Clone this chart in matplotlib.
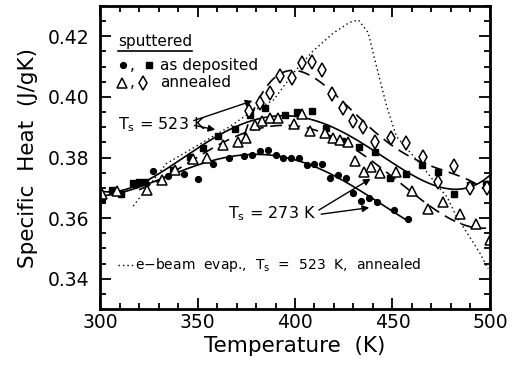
import numpy as np
import matplotlib.pyplot as plt
from matplotlib.ticker import MultipleLocator

# sputtered films, as deposited, Ts = 273 K (filled circles)
t_dep273 = [301, 311, 318, 323, 327, 335, 343, 350, 358, 366, 374, 378, 382, 386, 390,
            394, 398, 402, 406, 410, 414, 418, 422, 426, 430, 434, 438, 442, 451, 458]
c_dep273 = [0.366, 0.368, 0.371, 0.372, 0.3756, 0.374, 0.3747, 0.373, 0.378, 0.380,
            0.3805, 0.381, 0.382, 0.3825, 0.381, 0.380, 0.3797, 0.380, 0.3775, 0.378,
            0.378, 0.3734, 0.3742, 0.3734, 0.3683, 0.3657, 0.3668, 0.3653, 0.3628, 0.3598]

# as deposited, Ts = 523 K (filled squares)
t_dep523 = [306, 311, 317, 320, 323, 337.6, 346, 353, 360.5, 369, 377, 384.6, 395, 401,
            408.5, 416, 424, 433, 441, 448.7, 457, 465, 473.5, 481.5, 490, 498]
c_dep523 = [0.3694, 0.368, 0.3716, 0.3718, 0.372, 0.3758, 0.3803, 0.383, 0.3872, 0.3893,
            0.394, 0.3963, 0.394, 0.3949, 0.3952, 0.3897, 0.3856, 0.3834, 0.3819, 0.3734,
            0.3745, 0.3775, 0.3751, 0.368, 0.3709, 0.3712]

# annealed, Ts = 273 K (open triangles)
t_ann273 = [301, 308.5, 324, 331.6, 338.5, 347.5, 354.7, 363, 370.8, 375, 379.5, 383, 387,
            391.5, 399.5, 403.4, 407.7, 415.4, 419.6, 423, 427, 430.8, 435.4, 439, 443.6,
            451.8, 459.8, 468.4, 476, 484.6, 493, 500]
c_ann273 = [0.368, 0.369, 0.3694, 0.3725, 0.3758, 0.3795, 0.3797, 0.3841, 0.3852, 0.3864,
            0.3908, 0.3922, 0.393, 0.393, 0.3912, 0.3944, 0.3886, 0.3882, 0.3864, 0.3858,
            0.3852, 0.3789, 0.3751, 0.377, 0.3749, 0.3751, 0.369, 0.3631, 0.3653, 0.3615,
            0.3581, 0.3528]

# annealed, Ts = 523 K (open diamonds)
t_ann523 = [376.6, 382, 387, 392.3, 398.3, 403.4, 408.5, 413.7, 418.8, 424.4, 430, 435,
            441, 449, 457, 465.4, 473.5, 481.5, 490, 498.3]
c_ann523 = [0.3952, 0.398, 0.4013, 0.4068, 0.4063, 0.4113, 0.4115, 0.4088, 0.4011, 0.3963,
            0.3919, 0.390, 0.3852, 0.3864, 0.3849, 0.3803, 0.372, 0.3772, 0.3701, 0.3698]

# e-beam evaporated film, Ts = 523 K, annealed
t_ebeam = [317, 334, 366, 377, 389, 400, 409, 419.5, 428, 432.5, 437.5, 442.6, 447, 452,
           465.6, 474, 478, 483, 489.7, 495, 499]
c_ebeam = [0.364, 0.378, 0.390, 0.3948, 0.399, 0.4085, 0.415, 0.421, 0.4246, 0.4254,
           0.4213, 0.408, 0.397, 0.387, 0.3768, 0.370, 0.367, 0.3603, 0.3537, 0.3483, 0.3433]


def fit_curve(t, c, lo, hi, deg=4):
    p = np.polyfit(t, c, deg)
    x = np.linspace(lo, hi, 200)
    return x, np.polyval(p, x)


fig = plt.figure(figsize=(5.19, 3.68), dpi=100)
ax = fig.add_axes([0.1927, 0.160, 0.7514, 0.8237])

ax.plot(t_ebeam, c_ebeam, color='black', lw=1.0, ls=(0, (1, 2.2)))

x, y = fit_curve(t_dep273, c_dep273, 300, 458)
ax.plot(x, y, color='black', lw=1.2)
x, y = fit_curve(t_dep523, c_dep523, 300, 500)
ax.plot(x, y, color='black', lw=1.2)
x, y = fit_curve(t_ann273, c_ann273, 320, 498)
ax.plot(x, y, color='black', lw=1.2, ls=(0, (7, 4)))
x, y = fit_curve(t_ann523, c_ann523, 374, 498)
ax.plot(x, y, color='black', lw=1.2, ls=(0, (7, 4)))

ax.plot(t_dep273, c_dep273, 'o', color='black', ms=4.2, ls='none')
ax.plot(t_dep523, c_dep523, 's', color='black', ms=4.2, ls='none')
ax.plot(t_ann273, c_ann273, '^', mfc='white', mec='black', mew=1.1, ms=6.5, ls='none')
ax.plot(t_ann523, c_ann523, 'd', mfc='white', mec='black', mew=1.1, ms=7.5, ls='none')

ax.set_xlim(300, 500)
ax.set_ylim(0.33, 0.43)
ax.set_yticks([0.34, 0.36, 0.38, 0.40, 0.42])
ax.xaxis.set_major_locator(MultipleLocator(50))
ax.xaxis.set_minor_locator(MultipleLocator(10))
ax.yaxis.set_minor_locator(MultipleLocator(0.005))
ax.tick_params(which='both', direction='in', top=True, right=True, width=1.3,
               labelsize=13.5)
ax.tick_params(axis='x', pad=3)
ax.tick_params(axis='y', pad=8)
ax.tick_params(which='major', length=8)
ax.tick_params(which='minor', length=4)
for s in ax.spines.values():
    s.set_linewidth(2)

ax.set_xlabel('Temperature  (K)', fontsize=15.5, labelpad=3)
ax.set_ylabel('Specific  Heat  (J/gK)', fontsize=15.5, labelpad=7)

# legend block
ax.text(309.4, 0.4184, 'sputtered', fontsize=11, va='center')
ax.plot([309.4, 347], [0.4151, 0.4151], color='black', lw=1.2)
ax.plot([312], [0.4105], 'o', color='black', ms=4.2)
ax.text(315.4, 0.4105, ',', fontsize=11, va='center')
ax.plot([325.3], [0.4105], 's', color='black', ms=4.2)
ax.text(330.8, 0.4105, 'as deposited', fontsize=11, va='center')
ax.plot([311.5], [0.4046], '^', mfc='white', mec='black', mew=1.1, ms=6.5)
ax.text(315.4, 0.4046, ',', fontsize=11, va='center')
ax.plot([321.8], [0.4046], 'd', mfc='white', mec='black', mew=1.1, ms=7.5)
ax.text(330.8, 0.4046, 'annealed', fontsize=11, va='center')

arrow = dict(arrowstyle='-|>', color='black', lw=1.0, mutation_scale=10)
ax.text(309.4, 0.391, r'T$_\mathregular{s}$ = 523 K', fontsize=11.5, va='center')
ax.annotate('', xy=(379.5, 0.399), xytext=(346.7, 0.3919), arrowprops=arrow)
ax.annotate('', xy=(360.5, 0.389), xytext=(347, 0.3908), arrowprops=arrow)

ax.text(365.6, 0.3615, r'T$_\mathregular{s}$ = 273 K', fontsize=11.5, va='center')
ax.annotate('', xy=(440, 0.3735), xytext=(411, 0.3622), arrowprops=arrow)
ax.annotate('', xy=(439.5, 0.3636), xytext=(412, 0.3612), arrowprops=arrow)

ax.plot([309.4, 317], [0.3446, 0.3446], color='black', lw=1.0, ls=(0, (1, 2.2)))
ax.text(318, 0.3446, r'e$-$beam  evap.,  T$_\mathregular{s}$  =  523  K,  annealed',
        fontsize=10, va='center')

fig.savefig('out.png', dpi=100)
